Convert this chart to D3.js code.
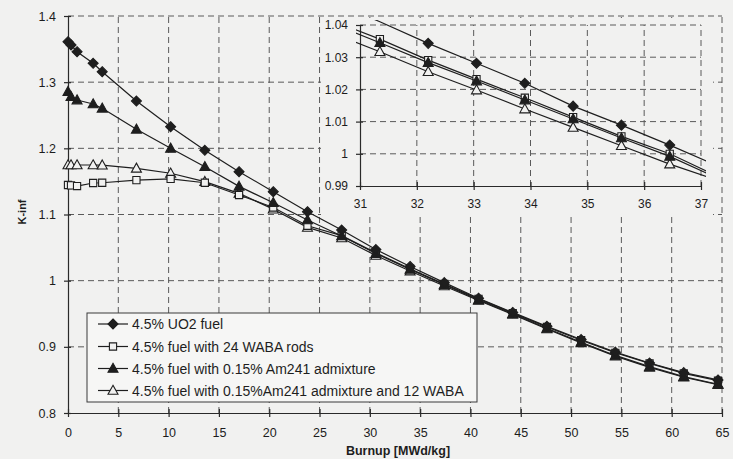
<!DOCTYPE html>
<html>
<head>
<meta charset="utf-8">
<script src="https://cdn.jsdelivr.net/npm/d3@7"></script>
<style>
    body { margin: 0; background: #f1f1f0; }
    svg { display: block; font-family: "Liberation Sans", Arial, sans-serif; }
    .grid line { stroke: #5a5a5a; stroke-width: 1; stroke-dasharray: 6,4; }
    .axis path, .axis line { stroke: #2a2a2a; stroke-width: 1.2; }
    .axis text { fill: #1c1c1c; }
    .series { fill: none; stroke: #1e1e1e; stroke-width: 1.2; }
</style>
</head>
<body>
<div id="chart"></div>
<script>
// data
const burnup = [0, 0.3, 0.9, 2.5, 3.4, 6.8, 10.2, 13.6, 17.0, 20.4, 23.8, 27.2, 30.6, 34.0,
    37.4, 40.8, 44.2, 47.6, 51.0, 54.4, 57.8, 61.2, 64.6];
const kUO2 = [1.3612, 1.3562, 1.3460, 1.3285, 1.3158, 1.2715, 1.2327, 1.1970, 1.1647, 1.1345, 1.1042,
    1.0765, 1.0470, 1.0215, 0.9970, 0.9735, 0.9520, 0.9310, 0.9110, 0.8920, 0.8755, 0.8610, 0.8500];
const kWaba = [1.1446, 1.1440, 1.1430, 1.1476, 1.1480, 1.1520, 1.1537, 1.1480, 1.1295, 1.1105, 1.0830,
    1.0680, 1.0420, 1.0180, 0.9950, 0.9725, 0.9510, 0.9300, 0.9100, 0.8910, 0.8750, 0.8600, 0.8490];
const kAm = [1.2856, 1.2780, 1.2730, 1.2670, 1.2605, 1.2288, 1.2000, 1.1722, 1.1425, 1.1178, 1.0917,
    1.0675, 1.0410, 1.0170, 0.9940, 0.9710, 0.9500, 0.9280, 0.9070, 0.8870, 0.8700, 0.8550, 0.8435];
const kAmWaba = [1.1748, 1.1748, 1.1748, 1.1748, 1.1745, 1.1698, 1.1623, 1.1496, 1.1320, 1.1080, 1.0805,
    1.0645, 1.0380, 1.0145, 0.9920, 0.9700, 0.9490, 0.9270, 0.9060, 0.8860, 0.8690, 0.8540, 0.8430];

// inset (zoomed 31..37), first and last x only carry the line to the frame
const insetBurnup = [30.9, 31.35, 32.2, 33.05, 33.9, 34.75, 35.6, 36.45, 37.1];
const insetUO2 = [1.0444, 1.0410, 1.0343, 1.0281, 1.0219, 1.0148, 1.0089, 1.0027, 0.9977];
const insetWaba = [1.0387, 1.0356, 1.0291, 1.0232, 1.0174, 1.0114, 1.0054, 1.0000, 0.9946];
const insetAm = [1.0377, 1.0345, 1.0283, 1.0226, 1.0167, 1.0108, 1.0049, 0.9992, 0.9940];
const insetAmWaba = [1.0348, 1.0317, 1.0255, 1.0198, 1.0139, 1.0082, 1.0025, 0.9968, 0.9929];

const seriesNames = [
    "4.5% UO2 fuel",
    "4.5% fuel with 24 WABA rods",
    "4.5% fuel with 0.15% Am241 admixture",
    "4.5% fuel with 0.15%Am241 admixture and 12 WABA",
];
const seriesMarkers = ["diamond", "square", "triangle", "triangleOpen"];

const xTicks = [0, 5, 10, 15, 20, 25, 30, 35, 40, 45, 50, 55, 60, 65];
const yTicks = [0.8, 0.9, 1.0, 1.1, 1.2, 1.3, 1.4];
const yTickLabels = ["0.8", "0.9", "1", "1.1", "1.2", "1.3", "1.4"];
const insetXTicks = [31, 32, 33, 34, 35, 36, 37];
const insetYTicks = [0.99, 1.0, 1.01, 1.02, 1.03, 1.04];
const insetYTickLabels = ["0.99", "1", "1.01", "1.02", "1.03", "1.04"];

// constants
const WIDTH = 733;
const HEIGHT = 459;
const BG = "#f1f1f0";
const INK = "#1e1e1e";

const svg = d3.select("#chart").append("svg")
    .attr("width", WIDTH)
    .attr("height", HEIGHT);
svg.append("rect").attr("width", WIDTH).attr("height", HEIGHT).attr("fill", BG);

const x = d3.scaleLinear().domain([0, 65]).range([68, 722]);
const y = d3.scaleLinear().domain([0.8, 1.4]).range([413, 16]);

const ix = d3.scaleLinear().domain([31, 37]).range([360, 701]);
const iy = d3.scaleLinear().domain([0.99, 1.04]).range([186, 25]);

function markerPath(kind) {
    if (kind === "diamond") return "M0,-5L5,0L0,5L-5,0Z";
    if (kind === "square") return "M-3.6,-3.6H3.6V3.6H-3.6Z";
    return "M0,-5.2L5,3.8L-5,3.8Z";
}
function markerFill(kind) {
    return (kind === "diamond" || kind === "triangle") ? INK : BG;
}

function drawFrame(g, xs, ys, xt, yt, yLabels, fontSize, xPad) {
    // gridlines
    g.append("g").attr("class", "grid")
        .selectAll("line").data(xt.slice(1)).join("line")
        .attr("x1", d => xs(d)).attr("x2", d => xs(d))
        .attr("y1", ys.range()[0]).attr("y2", ys.range()[1]);
    g.append("g").attr("class", "grid")
        .selectAll("line").data(yt.slice(1)).join("line")
        .attr("y1", d => ys(d)).attr("y2", d => ys(d))
        .attr("x1", xs.range()[0]).attr("x2", xs.range()[1]);

    const xAxis = g.append("g").attr("class", "axis")
        .attr("transform", `translate(0,${ys.range()[0]})`)
        .call(d3.axisBottom(xs).tickValues(xt).tickSize(4).tickSizeOuter(0).tickPadding(xPad)
            .tickFormat(d3.format("d")));
    xAxis.selectAll(".tick line").attr("y1", -4);
    xAxis.selectAll("text").style("font-size", fontSize + "px");

    const yAxis = g.append("g").attr("class", "axis")
        .attr("transform", `translate(${xs.range()[0]},0)`)
        .call(d3.axisLeft(ys).tickValues(yt).tickSize(4).tickSizeOuter(0).tickPadding(8)
            .tickFormat((d, i) => yLabels[i]));
    yAxis.selectAll(".tick line").attr("x1", 3);
    yAxis.selectAll("text").style("font-size", fontSize + "px");
    return [xAxis, yAxis];
}

function drawSeries(g, xs, ys, xv, values, kind, markerFilter) {
    const pts = xv.map((b, i) => [b, values[i]]);
    g.append("path")
        .attr("class", "series")
        .attr("d", d3.line().x(d => xs(d[0])).y(d => ys(d[1]))(pts));
    g.append("g")
        .selectAll("path").data(pts.filter(markerFilter)).join("path")
        .attr("transform", d => `translate(${xs(d[0])},${ys(d[1])})`)
        .attr("d", markerPath(kind))
        .attr("fill", markerFill(kind))
        .attr("stroke", INK)
        .attr("stroke-width", 1.1);
}

// main chart
const main = svg.append("g");
const [mainX] = drawFrame(main, x, y, xTicks, yTicks, yTickLabels, 12.5, 10);
mainX.selectAll("text").attr("dy", "0.8em");

const mainSeries = [kUO2, kWaba, kAm, kAmWaba];
[3, 1, 2, 0].forEach(i => {
    drawSeries(main, x, y, burnup, mainSeries[i], seriesMarkers[i], () => true);
});

main.append("text")
    .attr("x", 398).attr("y", 455)
    .attr("text-anchor", "middle")
    .attr("font-weight", "bold")
    .attr("font-size", 12.5)
    .attr("fill", INK)
    .text("Burnup [MWd/kg]");
main.append("text")
    .attr("transform", "translate(26,212) rotate(-90)")
    .attr("text-anchor", "middle")
    .attr("font-weight", "bold")
    .attr("font-size", 11)
    .attr("fill", INK)
    .text("K-inf");

// inset
const inset = svg.append("g");
inset.append("rect")
    .attr("x", 321).attr("y", 18)
    .attr("width", 392).attr("height", 197)
    .attr("fill", BG);
const [insetX] = drawFrame(inset, ix, iy, insetXTicks, insetYTicks, insetYTickLabels, 12, 9);
insetX.selectAll("text").attr("dy", "0.75em");

svg.append("clipPath").attr("id", "insetClip")
    .append("rect").attr("x", 356).attr("y", 20).attr("width", 350).attr("height", 168);
const insetPlot = inset.append("g").attr("clip-path", "url(#insetClip)");
const insetSeries = [insetUO2, insetWaba, insetAm, insetAmWaba];
[3, 1, 2, 0].forEach(i => {
    drawSeries(insetPlot, ix, iy, insetBurnup, insetSeries[i], seriesMarkers[i],
        d => d[0] > 31 && d[0] < 37 && d[1] <= 1.0405);
});

// legend
const legend = svg.append("g");
legend.append("rect")
    .attr("x", 87).attr("y", 313)
    .attr("width", 390).attr("height", 89)
    .attr("fill", "#f6f6f5")
    .attr("stroke", "#3a3a3a")
    .attr("stroke-width", 1);
const rowY = [324, 346.5, 368.5, 390.5];
seriesNames.forEach((name, i) => {
    const row = legend.append("g").attr("transform", `translate(0,${rowY[i]})`);
    row.append("line")
        .attr("x1", 98).attr("x2", 128)
        .attr("stroke", INK).attr("stroke-width", 1.2);
    row.append("path")
        .attr("transform", "translate(113,0)")
        .attr("d", markerPath(seriesMarkers[i]))
        .attr("fill", markerFill(seriesMarkers[i]))
        .attr("stroke", INK)
        .attr("stroke-width", 1.1);
    row.append("text")
        .attr("x", 132).attr("dy", "0.36em")
        .attr("font-size", 14)
        .attr("fill", INK)
        .text(name);
});
</script>
</body>
</html>
